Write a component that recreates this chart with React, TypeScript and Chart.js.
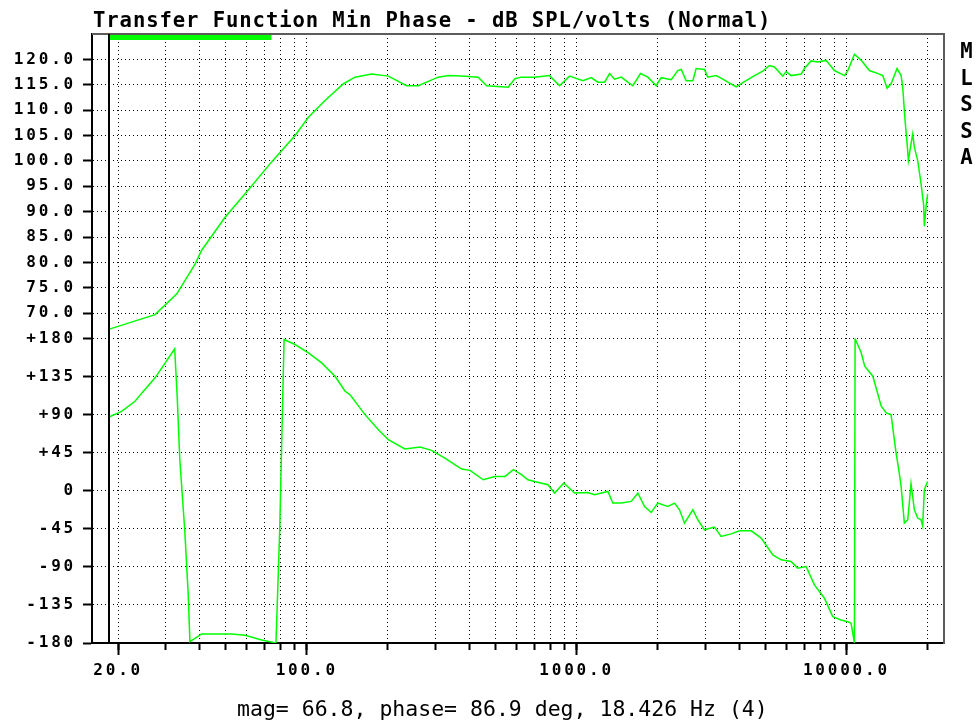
import { useEffect, useRef } from 'react';
import { Chart, registerables } from 'chart.js';

Chart.register(...registerables);

// Magnitude response, dB SPL/volts
const magFreqHz = [
  18.426, 27.4, 33.0, 38.6, 40.8, 49.8, 59.1, 74.1, 90.5, 101.4, 116.9, 136.8, 151, 174, 200.7,
  234.5, 259, 307, 335, 375, 432, 464, 558, 591, 624, 699, 794, 865, 942, 1056, 1133, 1199, 1270,
  1325, 1383, 1464, 1549, 1616, 1726, 1837, 1973, 2059, 2243, 2372, 2443, 2549, 2697, 2774, 2979,
  3064, 3290, 3483, 3634, 3905, 4190, 4564, 4898, 5188, 5411, 5808, 5980, 6240, 6800, 6985, 7400,
  7830, 8410, 9030, 9840, 10120, 10715, 11350, 12170, 13250, 13640, 14150, 14640, 15410, 15950,
  16170, 16500, 16790, 16970, 17360, 17610, 17860, 18370, 18910, 19340, 19450, 19730, 20000,
];
const magDb = [
  66.8, 69.7, 73.8, 79.7, 82.4, 88.9, 93.5, 99.8, 105.0, 108.6, 111.9, 115.2, 116.5, 117.1, 116.7,
  114.8, 114.8, 116.5, 116.8, 116.7, 116.5, 114.8, 114.5, 116.2, 116.5, 116.5, 116.8, 114.8, 116.7,
  115.8, 116.4, 115.5, 115.5, 117.2, 116.1, 116.5, 115.5, 114.8, 117.2, 116.5, 114.8, 116.4, 116.0,
  117.8, 118.0, 115.8, 115.8, 118.2, 118.0, 116.5, 116.8, 116.1, 115.5, 114.6, 115.6, 116.8, 117.7,
  118.8, 118.5, 116.7, 117.6, 116.8, 117.1, 118.2, 119.7, 119.5, 119.8, 117.8, 116.8, 117.8, 121.0,
  119.8, 117.8, 117.1, 116.8, 114.3, 115.2, 118.2, 116.8, 114.5, 107.9, 103.4, 100.1, 103.4, 105.3,
  102.7, 100.1, 95.5, 91.2, 87.1, 90.9, 93.5,
];

// Minimum phase, degrees (wrapped to +/-180)
const phaseFreqHz = [
  18.426, 20.6, 23.1, 24.5, 27.4, 29.9, 32.4, 33.1, 33.85, 35.3, 36.35, 36.9, 40.8, 52.7, 59.1, 68.1,
  76.9, 79.4, 82.4, 90.5, 101.4, 113.6, 127.3, 138.7, 144.5, 164.4, 184.3, 200.7, 231, 263, 290, 325,
  375, 403, 451, 498, 543, 583, 625, 660, 699, 783, 829, 897, 983, 1101, 1166, 1306, 1363, 1464, 1594,
  1687, 1786, 1891, 2000, 2178, 2307, 2407, 2512, 2697, 2814, 2979, 3243, 3434, 3741, 4018, 4440,
  4833, 5336, 5730, 6240, 6600, 7089, 7610, 8290, 8900, 9550, 10120, 10410, 10710, 10770, 11350,
  11690, 12530, 13460, 14050, 14640, 15280, 15700, 15950, 16400, 16880, 17360, 17860, 18370, 18910,
  19170, 19450, 20000,
];
const phaseDeg = [
  86.9, 93.9, 105.8, 115.7, 133.5, 151.2, 167.8, 111.7, 36.7, -46.2, -121.1, -178.4, -169.3, -169.3,
  -170.9, -176.4, -180, -46.2, 178.8, 172.9, 163.1, 151.2, 135.4, 117.6, 113.7, 90, 72.2, 60.4, 49.4,
  51.8, 47.7, 38.7, 25.7, 24.1, 13, 16.9, 16.9, 24.9, 19, 13, 11, 7.1, -2.7, 9.1, -2.7, -2, -4.7,
  -0.8, -14.6, -14.6, -12.6, -2.7, -18.6, -25.7, -14.6, -18.6, -14.6, -22.5, -38.3, -22.5, -34.3,
  -46.2, -43, -54.1, -51, -47.4, -47.4, -56, -75.8, -81.7, -83.7, -91.5, -89.6, -111.3, -127.1,
  -148.8, -152.8, -154.8, -156.7, -180, 179.7, 163.1, 147.2, 135.4, 100, 92, 90, 44.7, 21, 5.1,
  -38.3, -34.3, 8.3, -22.5, -32.3, -34.3, -41.4, 1.2, 11,
];

// Frequency axis
const freqMinHz = 16;
const freqMaxHz = 23000;
const freqGridHz = [
  20, 30, 40, 50, 60, 70, 80, 90, 100, 200, 300, 400, 500, 600, 700, 800, 900, 1000, 2000, 3000,
  4000, 5000, 6000, 7000, 8000, 9000, 10000, 20000,
];
const freqMajorHz = [20, 100, 1000, 10000];
const freqMajorLabels = ['20.0', '100.0', '1000.0', '10000.0'];

// Magnitude axis (upper half)
const magMin = 65;
const magMax = 125;
const magTicks = [70, 75, 80, 85, 90, 95, 100, 105, 110, 115, 120];
const magTickLabels = ['70.0', '75.0', '80.0', '85.0', '90.0', '95.0', '100.0', '105.0', '110.0', '115.0', '120.0'];

// Phase axis (lower half)
const phaseTicks = [-180, -135, -90, -45, 0, 45, 90, 135, 180];
const phaseTickLabels = ['-180', '-135', '-90', '-45', '0', '+45', '+90', '+135', '+180'];

// Cursor readout
const cursorFreqHz = 18.426;
const cursorMag = 66.8;
const cursorPhase = 86.9;
const cursorBin = 4;
const windowEndHz = 74;

const titleText = 'Transfer Function Min Phase - dB SPL/volts (Normal)';
const sideLetters = ['M', 'L', 'S', 'S', 'A'];

const TRACE = '#00ff00';
const MONO = '"DejaVu Sans Mono", "Liberation Mono", monospace';
const tickFont = { family: MONO, size: 16, weight: 'bold' as const };
const TICK_SPACING = '2.8px';

const labelFor = (values: number[], labels: string[]) => (v: number | string) => {
  const i = values.indexOf(Number(v));
  return i >= 0 ? labels[i] : '';
};

// Frame, cursor, window bar and screen texts
const screenPlugin = {
  id: 'mlssaScreen',
  beforeDraw(chart: any) {
    const ctx = chart.ctx as CanvasRenderingContext2D;
    ctx.save();
    ctx.fillStyle = '#ffffff';
    ctx.fillRect(0, 0, chart.width, chart.height);
    ctx.restore();
    (ctx as any).letterSpacing = TICK_SPACING;
  },
  afterDraw(chart: any) {
    const ctx = chart.ctx as CanvasRenderingContext2D;
    const a = chart.chartArea;
    const xs = chart.scales.x;
    ctx.save();
    (ctx as any).letterSpacing = '0px';

    ctx.strokeStyle = '#5c5c5c';
    ctx.lineWidth = 2;
    ctx.beginPath();
    ctx.moveTo(a.left, a.top);
    ctx.lineTo(a.right, a.top);
    ctx.lineTo(a.right, a.bottom + 1);
    ctx.stroke();

    const cx = Math.round(xs.getPixelForValue(cursorFreqHz));
    ctx.strokeStyle = '#000000';
    ctx.beginPath();
    ctx.moveTo(cx, a.top);
    ctx.lineTo(cx, a.bottom);
    ctx.stroke();

    const ex = xs.getPixelForValue(windowEndHz);
    ctx.fillStyle = TRACE;
    ctx.fillRect(cx + 1, a.top + 1, ex - cx - 1, 5);

    ctx.fillStyle = '#000000';
    ctx.textBaseline = 'alphabetic';
    ctx.textAlign = 'left';
    ctx.font = `bold 20.6px ${MONO}`;
    (ctx as any).letterSpacing = '0.9px';
    ctx.fillText(titleText, 93, 27);

    ctx.textAlign = 'center';
    (ctx as any).letterSpacing = '0px';
    sideLetters.forEach((ch, i) => ctx.fillText(ch, 966.5, 58 + i * 26.6));

    ctx.textAlign = 'left';
    ctx.font = `21.5px ${MONO}`;
    ctx.fillText(
      `mag= ${cursorMag.toFixed(1)}, phase= ${cursorPhase.toFixed(1)} deg, ${cursorFreqHz.toFixed(3)} Hz (${cursorBin})`,
      237,
      716
    );
    ctx.restore();
    (ctx as any).letterSpacing = '0px';
  },
};

export default function App() {
  const canvasRef = useRef<HTMLCanvasElement | null>(null);

  useEffect(() => {
    const canvas = canvasRef.current;
    if (!canvas) return;

    const chart = new Chart(canvas, {
      type: 'line',
      data: {
        datasets: [
          {
            label: 'Magnitude',
            data: magFreqHz.map((f, i) => ({ x: f, y: magDb[i] })),
            xAxisID: 'x',
            yAxisID: 'mag',
            borderColor: TRACE,
            borderWidth: 1.5,
            pointRadius: 0,
            tension: 0,
            fill: false,
          },
          {
            label: 'Phase',
            data: phaseFreqHz.map((f, i) => ({ x: f, y: phaseDeg[i] })),
            xAxisID: 'x',
            yAxisID: 'phase',
            borderColor: TRACE,
            borderWidth: 1.5,
            pointRadius: 0,
            tension: 0,
            fill: false,
          },
        ],
      },
      options: {
        responsive: false,
        animation: false,
        devicePixelRatio: 1,
        layout: { padding: { top: 34, right: 34, left: 0, bottom: 0 } },
        plugins: {
          legend: { display: false },
          tooltip: { enabled: false },
          title: { display: false },
        },
        scales: {
          xt: {
            type: 'logarithmic',
            position: 'bottom',
            weight: 0,
            min: freqMinHz,
            max: freqMaxHz,
            afterBuildTicks: (s: any) => {
              s.ticks = freqMajorHz.map((v) => ({ value: v }));
            },
            afterFit: (s: any) => {
              s.height = 0;
            },
            ticks: { display: false, autoSkip: false },
            grid: { drawOnChartArea: false, tickLength: 12, tickColor: '#000', tickWidth: 2 },
            border: { display: true, color: '#000', width: 2 },
          },
          x: {
            type: 'logarithmic',
            position: 'bottom',
            weight: 1,
            min: freqMinHz,
            max: freqMaxHz,
            afterBuildTicks: (s: any) => {
              s.ticks = freqGridHz.map((v) => ({ value: v }));
            },
            afterFit: (s: any) => {
              s.height = 81;
            },
            ticks: {
              autoSkip: false,
              maxRotation: 0,
              minRotation: 0,
              padding: 11,
              color: '#000',
              font: tickFont,
              callback: labelFor(freqMajorHz, freqMajorLabels),
            },
            grid: { color: '#000', lineWidth: 1, tickLength: 7, tickColor: '#000', tickWidth: 2 },
            border: { display: false, dash: [1, 3] },
          },
          phase: {
            type: 'linear',
            position: 'left',
            stack: 'screen',
            stackWeight: 1,
            min: -180,
            max: 180,
            afterBuildTicks: (s: any) => {
              s.ticks = phaseTicks.map((v) => ({ value: v }));
            },
            afterFit: (s: any) => {
              s.width = 92;
            },
            ticks: {
              autoSkip: false,
              padding: 7,
              color: '#000',
              font: tickFont,
              callback: labelFor(phaseTicks, phaseTickLabels),
            },
            grid: { color: '#000', lineWidth: 1, tickLength: 9, tickColor: '#000', tickWidth: 2 },
            border: { color: '#000', width: 2, dash: [1, 3] },
          },
          mag: {
            type: 'linear',
            position: 'left',
            stack: 'screen',
            stackWeight: 1,
            min: magMin,
            max: magMax,
            afterBuildTicks: (s: any) => {
              s.ticks = magTicks.map((v) => ({ value: v }));
            },
            afterFit: (s: any) => {
              s.width = 92;
            },
            ticks: {
              autoSkip: false,
              padding: 7,
              color: '#000',
              font: tickFont,
              callback: labelFor(magTicks, magTickLabels),
            },
            grid: { color: '#000', lineWidth: 1, tickLength: 9, tickColor: '#000', tickWidth: 2 },
            border: { color: '#000', width: 2, dash: [1, 3] },
          },
        },
      } as any,
      plugins: [screenPlugin],
    });

    return () => chart.destroy();
  }, []);

  return (
    <div style={{ position: 'absolute', left: 0, top: 0, width: 978, height: 724, background: '#ffffff' }}>
      <canvas ref={canvasRef} width={978} height={724} style={{ display: 'block', width: 978, height: 724 }} />
    </div>
  );
}
